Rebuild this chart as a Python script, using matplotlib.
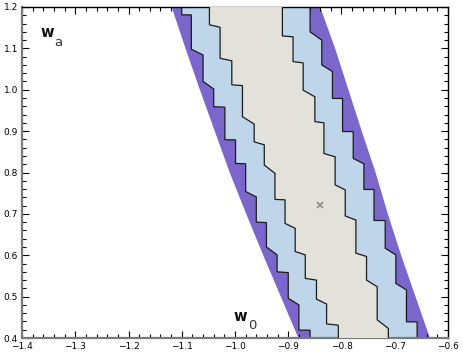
import numpy as np
import matplotlib
matplotlib.use("Agg")
import matplotlib.pyplot as plt
from matplotlib.patches import Polygon
from matplotlib.ticker import MultipleLocator

# ---------------- data ----------------
# 3-sigma region: smooth outer edges (w0 at the given w_a values)
sig3_wa = [1.2, 1.1, 1.0, 0.9, 0.8, 0.7, 0.6, 0.5, 0.4]
sig3_left_w0 = [-1.119, -1.093, -1.066, -1.038, -1.010, -0.979, -0.947, -0.914, -0.881]
sig3_right_w0 = [-0.840, -0.812, -0.787, -0.762, -0.736, -0.713, -0.688, -0.661, -0.634]

# 2-sigma region: stair-step edges. w0 of each vertical segment (top to bottom),
# and w_a where each segment ends (hi) and where the next one starts (lo)
sig2_left_w0 = [-1.100, -1.082, -1.060, -1.040, -1.019, -0.999, -0.980,
                -0.960, -0.941, -0.921, -0.900, -0.880, -0.859]
sig2_left_hi = [1.181, 1.098, 1.020, 0.959, 0.879, 0.822, 0.754,
                0.680, 0.620, 0.560, 0.496, 0.419]
sig2_left_lo = [1.181, 1.084, 1.002, 0.958, 0.879, 0.821, 0.741,
                0.679, 0.601, 0.558, 0.480, 0.419]

sig2_right_w0 = [-0.859, -0.837, -0.817, -0.798, -0.778, -0.758,
                 -0.739, -0.718, -0.698, -0.678, -0.658]
sig2_right_hi = [1.140, 1.060, 0.979, 0.899, 0.834, 0.759, 0.684, 0.617, 0.532, 0.439]
sig2_right_lo = [1.120, 1.044, 0.979, 0.899, 0.821, 0.759, 0.684, 0.601, 0.516, 0.439]

# 1-sigma region
sig1_left_w0 = [-1.048, -1.028, -1.006, -0.986, -0.964, -0.945, -0.925,
                -0.906, -0.887, -0.868, -0.847, -0.828, -0.806]
sig1_left_hi = [1.157, 1.076, 1.012, 0.935, 0.874, 0.818, 0.735,
                0.677, 0.609, 0.544, 0.494, 0.434]
sig1_left_lo = [1.151, 1.070, 1.010, 0.917, 0.867, 0.798, 0.734,
                0.665, 0.601, 0.540, 0.482, 0.431]

sig1_right_w0 = [-0.911, -0.891, -0.872, -0.850, -0.833, -0.812,
                 -0.793, -0.773, -0.753, -0.733, -0.712]
sig1_right_hi = [1.130, 1.068, 0.999, 0.923, 0.846, 0.770, 0.695, 0.605, 0.540, 0.444]
sig1_right_lo = [1.128, 1.065, 0.983, 0.920, 0.838, 0.758, 0.685, 0.597, 0.524, 0.423]

best_fit_w0 = [-0.840]
best_fit_wa = [0.722]

x_ticks = [-1.4, -1.3, -1.2, -1.1, -1.0, -0.9, -0.8, -0.7, -0.6]
y_ticks = [0.4, 0.5, 0.6, 0.7, 0.8, 0.9, 1.0, 1.1, 1.2]

# ---------------- styling ----------------
C_PURPLE = "#7b66cc"
C_BLUE = "#bfd5e9"
C_BEIGE = "#e2e1da"
C_EDGE = "#1c1c1c"


def step_edge(w0, hi, lo, top=1.3, bottom=0.3):
    pts = [(w0[0], top)]
    for i in range(len(hi)):
        pts.append((w0[i], hi[i]))
        pts.append((w0[i + 1], lo[i]))
    pts.append((w0[-1], bottom))
    return pts


fig = plt.figure(figsize=(4.63, 3.54), dpi=100)
ax = fig.add_axes([22 / 463, 16 / 354, 426 / 463, 331 / 354])

# 3 sigma band
left3 = list(zip(sig3_left_w0, sig3_wa))
right3 = list(zip(sig3_right_w0, sig3_wa))
ax.add_patch(Polygon(left3 + right3[::-1], closed=True, facecolor=C_PURPLE,
                     edgecolor="none", zorder=1))

# 2 sigma band
l2 = step_edge(sig2_left_w0, sig2_left_hi, sig2_left_lo)
r2 = step_edge(sig2_right_w0, sig2_right_hi, sig2_right_lo)
ax.add_patch(Polygon(l2 + r2[::-1], closed=True, facecolor=C_BLUE,
                     edgecolor=C_EDGE, linewidth=0.9, joinstyle="miter", zorder=2))

# 1 sigma band
l1 = step_edge(sig1_left_w0, sig1_left_hi, sig1_left_lo)
r1 = step_edge(sig1_right_w0, sig1_right_hi, sig1_right_lo)
ax.add_patch(Polygon(l1 + r1[::-1], closed=True, facecolor=C_BEIGE,
                     edgecolor=C_EDGE, linewidth=0.9, joinstyle="miter", zorder=3))

ax.plot(best_fit_w0, best_fit_wa, ls="none", marker="x", color="#8c8c8c",
        markersize=5, markeredgewidth=1.2, zorder=4)

ax.set_xlim(-1.4, -0.6)
ax.set_ylim(0.4, 1.2)
ax.set_xticks(x_ticks)
ax.set_yticks(y_ticks)
ax.set_xticklabels([f"{v:.1f}".replace("-", "\u2212") for v in x_ticks])
ax.set_yticklabels([f"{v:.1f}" for v in y_ticks])
ax.xaxis.set_minor_locator(MultipleLocator(0.02))
ax.yaxis.set_minor_locator(MultipleLocator(0.02))
ax.tick_params(which="both", direction="in", top=True, right=True,
               colors="black", labelsize=6.5, width=0.8)
ax.tick_params(which="major", length=5, pad=3)
ax.tick_params(which="minor", length=3)

for side in ("left", "bottom"):
    ax.spines[side].set_color("#7a7a7a")
    ax.spines[side].set_linewidth(1.6)
for side in ("top", "right"):
    ax.spines[side].set_color("black")
    ax.spines[side].set_linewidth(1.0)

# axis-name labels placed inside the frame, as in the reference
ax.text(-1.366, 1.1275, "w", fontsize=10.5, fontweight="bold", color="#111111", zorder=5)
ax.text(-1.339, 1.1057, "a", fontsize=9.5, color="#333333", zorder=5)
ax.text(-1.002, 0.441, "w", fontsize=10.5, fontweight="bold", color="#111111", zorder=5)
ax.text(-0.975, 0.4218, "0", fontsize=9.5, color="#333333", zorder=5)

fig.savefig("out.png", dpi=100, facecolor="white")
